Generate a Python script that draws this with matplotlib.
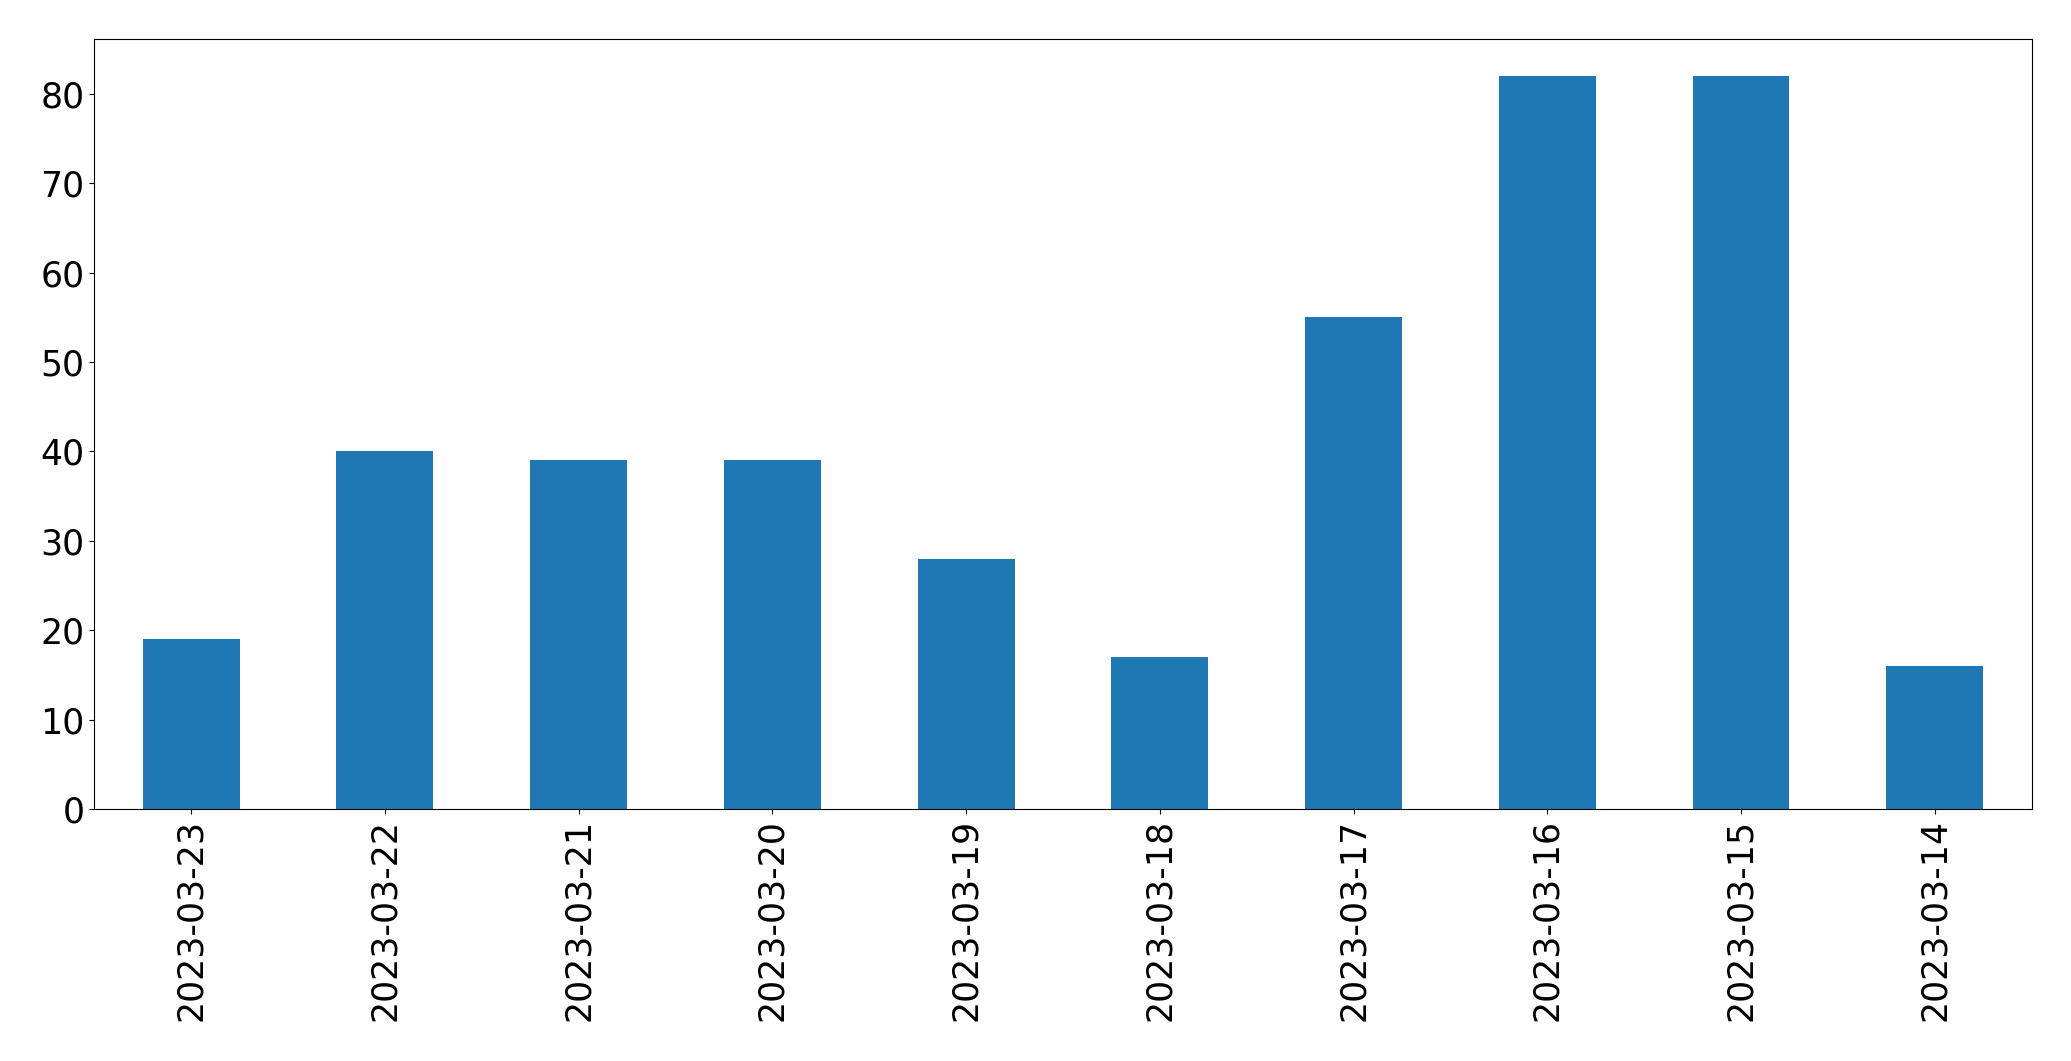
import matplotlib
matplotlib.use("Agg")
import matplotlib.pyplot as plt
import pandas as pd

dates = ["2023-03-23", "2023-03-22", "2023-03-21", "2023-03-20", "2023-03-19",
         "2023-03-18", "2023-03-17", "2023-03-16", "2023-03-15", "2023-03-14"]
counts = [19, 40, 39, 39, 28, 17, 55, 82, 82, 16]

series = pd.Series(counts, index=dates)

fig = plt.figure(figsize=(20.71, 10.61), dpi=100)
ax = fig.add_axes([0.0455, 0.2375, 0.9355, 0.7254])
series.plot(kind="bar", ax=ax, color="#1f77b4", fontsize=25)

fig.savefig("out.png", dpi=100)
